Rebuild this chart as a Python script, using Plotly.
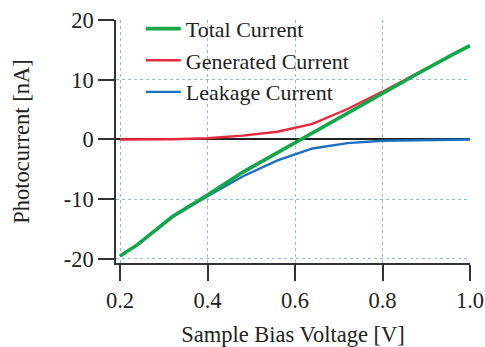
import plotly.graph_objects as go

voltage = [0.20, 0.24, 0.32, 0.40, 0.48, 0.56, 0.64, 0.72, 0.80, 0.88, 0.96, 1.00]
total_current = [-19.5, -17.6, -12.9, -9.3, -5.5, -2.2, 1.1, 4.5, 7.8, 11.0, 14.2, 15.7]
generated_current = [0.0, 0.0, 0.05, 0.2, 0.65, 1.3, 2.6, 5.1, 8.0, 11.1, 14.25, 15.7]
leakage_current = [-19.5, -17.6, -12.95, -9.5, -6.2, -3.5, -1.5, -0.6, -0.2, -0.1, -0.05, 0.0]

x_ticks = [0.2, 0.4, 0.6, 0.8, 1.0]
x_tick_text = ["0.2", "0.4", "0.6", "0.8", "1.0"]
y_ticks = [-20, -10, 0, 10, 20]
y_tick_text = ["-20", "-10", "0", "10", "20"]

FONT = "Liberation Serif"
FS = 22.5

fig = go.Figure()
fig.add_trace(go.Scatter(x=voltage, y=generated_current, mode="lines", name="Generated Current",
                         legendrank=2, line=dict(color="#e8283c", width=2.4)))
fig.add_trace(go.Scatter(x=voltage, y=leakage_current, mode="lines", name="Leakage Current",
                         legendrank=3, line=dict(color="#1a6fc0", width=2.4)))
fig.add_trace(go.Scatter(x=voltage, y=total_current, mode="lines", name="Total Current",
                         legendrank=1, line=dict(color="#12a84a", width=3.6)))

grid = dict(showgrid=True, gridcolor="#8fb9e6", griddash="dot", gridwidth=1)

fig.update_layout(
    width=485, height=347,
    margin=dict(l=116, r=15, t=20, b=84, autoexpand=False),
    paper_bgcolor="white", plot_bgcolor="white",
    font=dict(family=FONT, size=FS, color="#222222"),
    showlegend=True,
    legend=dict(x=0.07, y=1.05, xanchor="left", yanchor="top", bgcolor="rgba(0,0,0,0)",
                font=dict(family=FONT, size=22, color="#222222"),
                tracegroupgap=0, itemwidth=35),
    xaxis=dict(range=[0.2 - 4 / 350 * 0.8, 1.0], tickvals=x_ticks, ticktext=x_tick_text,
               tickfont=dict(family=FONT, size=FS, color="#222222"),
               ticks="outside", ticklen=16, tickwidth=1.5, tickcolor="#333333",
               automargin=False,
               showline=True, linecolor="#333333", linewidth=1.5, zeroline=False,
               title=dict(text="Sample Bias Voltage [V]", standoff=16,
                          font=dict(family=FONT, size=FS, color="#222222")), **grid),
    yaxis=dict(range=[-20 - 4 / 5.95, 20], tickvals=y_ticks, ticktext=y_tick_text,
               tickfont=dict(family=FONT, size=FS, color="#222222"),
               ticks="outside", ticklen=16, tickwidth=1.5, tickcolor="#333333",
               ticksuffix="\u2009", automargin=False,
               showline=True, linecolor="#333333", linewidth=1.5,
               zeroline=True, zerolinecolor="#222222", zerolinewidth=1.5,
               title=dict(text="Photocurrent [nA]", standoff=28,
                          font=dict(family=FONT, size=FS, color="#222222")), **grid),
)

fig.write_html("out.html", config={"displayModeBar": False},
               post_script="document.body.style.margin='0';document.body.style.overflow='hidden';")
